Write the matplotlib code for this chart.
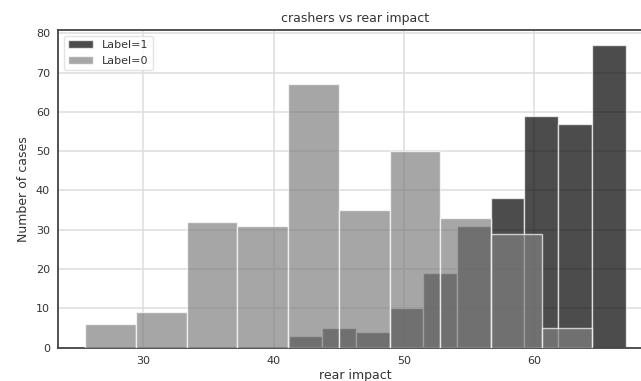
import numpy as np
import matplotlib.pyplot as plt

# histogram counts
counts_1 = [3, 5, 4, 10, 19, 31, 38, 59, 57, 77]   # Label=1
range_1 = (41.15, 67.02)
counts_0 = [6, 9, 32, 31, 67, 35, 50, 33, 29, 5]    # Label=0
range_0 = (25.54, 64.48)
xticks = [30, 40, 50, 60]
yticks = [0, 10, 20, 30, 40, 50, 60, 70, 80]

edges_1 = np.linspace(range_1[0], range_1[1], len(counts_1) + 1)
edges_0 = np.linspace(range_0[0], range_0[1], len(counts_0) + 1)

plt.rcParams['font.family'] = 'DejaVu Sans'
txt = '#333333'

fig = plt.figure(figsize=(6.41, 3.81), dpi=100)
ax = fig.add_axes([0.091, 0.0874, 0.927, 0.834])

ax.hist(edges_1[:-1], bins=edges_1, weights=counts_1, color='black', alpha=0.7,
        edgecolor='white', linewidth=1, label='Label=1', zorder=2)
ax.hist(edges_0[:-1], bins=edges_0, weights=counts_0, color='grey', alpha=0.7,
        edgecolor='white', linewidth=1, label='Label=0', zorder=3)

ax.set_axisbelow(True)
ax.grid(True, color='#dddddd', linewidth=1.1, zorder=0)
ax.set_xticks(xticks)
ax.set_yticks(yticks)
ax.tick_params(length=0, labelsize=8, colors=txt, pad=6)
for s in ax.spines.values():
    s.set_color('#444444')
    s.set_linewidth(1.3)

ax.set_title('crashers vs rear impact', fontsize=9, color=txt)
ax.set_xlabel('rear impact', fontsize=9, color=txt, labelpad=2)
ax.set_ylabel('Number of cases', fontsize=9, color=txt)
leg = ax.legend(loc='upper left', fontsize=8, frameon=True, handlelength=2.2)
leg.get_frame().set_edgecolor('#dddddd')
for t in leg.get_texts():
    t.set_color(txt)

fig.savefig('out.png', dpi=100)
